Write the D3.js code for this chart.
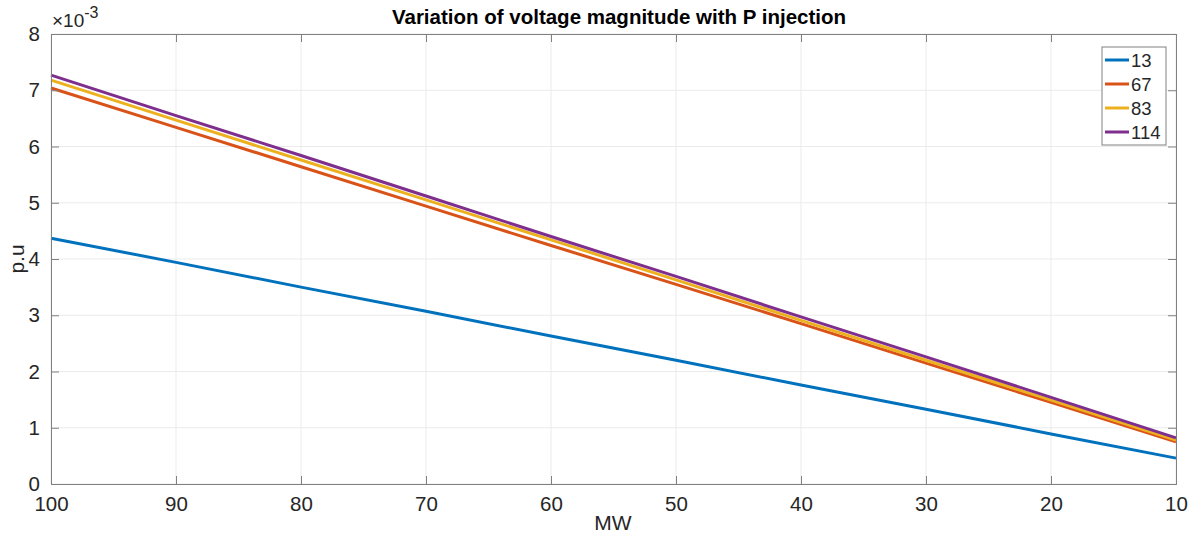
<!DOCTYPE html>
<html><head><meta charset="utf-8">
<script src="https://cdn.jsdelivr.net/npm/d3@7"></script>
<style>body{margin:0;background:#fff;} text{font-family:"Liberation Sans",Arial,sans-serif;}</style>
</head><body>
<svg id="c" width="1198" height="548"></svg>
<script>
const mw = [100, 90, 80, 70, 60, 50, 40, 30, 20, 10];
const bus13  = [4.37, 3.94, 3.50, 3.07, 2.63, 2.20, 1.76, 1.33, 0.89, 0.46];
const bus67  = [7.04, 6.34, 5.64, 4.94, 4.24, 3.55, 2.85, 2.15, 1.45, 0.75];
const bus83  = [7.18, 6.47, 5.76, 5.05, 4.34, 3.63, 2.91, 2.20, 1.49, 0.78];
const bus114 = [7.27, 6.55, 5.84, 5.12, 4.40, 3.69, 2.97, 2.26, 1.54, 0.82];
const seriesNames = ["13", "67", "83", "114"];
const colors = ["#0072BD", "#D95319", "#EDB120", "#7E2F8E"];
const xTicks = [100, 90, 80, 70, 60, 50, 40, 30, 20, 10];
const yTicks = [0, 1, 2, 3, 4, 5, 6, 7, 8];

const svg = d3.select("#c");
const L = 51, R = 1176, T = 34, B = 484;
const x = d3.scaleLinear().domain([100, 10]).range([L, R]);
const y = d3.scaleLinear().domain([0, 8]).range([B, T]);
const axCol = "#262626";

// grid
svg.append("g").selectAll("line").data(xTicks).join("line")
  .attr("x1", d => x(d)).attr("x2", d => x(d)).attr("y1", T).attr("y2", B)
  .attr("stroke", "#ebebeb").attr("stroke-width", 1);
svg.append("g").selectAll("line").data(yTicks).join("line")
  .attr("x1", L).attr("x2", R).attr("y1", d => y(d)).attr("y2", d => y(d))
  .attr("stroke", "#ebebeb").attr("stroke-width", 1);

// lines
const data = [bus13, bus67, bus83, bus114];
const line = d3.line().x((d, i) => x(mw[i])).y(d => y(d));
data.forEach((s, k) => {
  svg.append("path").datum(s).attr("d", line).attr("fill", "none")
    .attr("stroke", colors[k]).attr("stroke-width", 3);
});

// axes with inward ticks
const xb = d3.axisBottom(x).tickValues(xTicks).tickSize(-8).tickPadding(12).tickFormat(d3.format("d"));
const xt = d3.axisTop(x).tickValues(xTicks).tickSize(-8).tickFormat("");
const yl = d3.axisLeft(y).tickValues(yTicks).tickSize(-8).tickPadding(11).tickFormat(d3.format("d"));
const yr = d3.axisRight(y).tickValues(yTicks).tickSize(-8).tickFormat("");
function style(g){ g.selectAll("path,line").attr("stroke", "#808080"); g.selectAll("text").attr("fill", axCol).attr("font-size", 20.5).attr("font-family", "Liberation Sans, Arial, sans-serif"); }
svg.append("g").attr("transform", `translate(0,${B})`).call(xb).call(style);
svg.append("g").attr("transform", `translate(0,${T})`).call(xt).call(style);
svg.append("g").attr("transform", `translate(${L},0)`).call(yl).call(style);
svg.append("g").attr("transform", `translate(${R},0)`).call(yr).call(style);

// title & labels
svg.append("text").attr("x", 619).attr("y", 24).attr("text-anchor", "middle")
  .attr("font-size", 20.5).attr("font-weight", "bold").attr("fill", "#000")
  .text("Variation of voltage magnitude with P injection");
svg.append("text").attr("x", 613).attr("y", 530).attr("text-anchor", "middle")
  .attr("font-size", 21).attr("fill", axCol).text("MW");
svg.append("text").attr("transform", "translate(24,259) rotate(-90)").attr("text-anchor", "middle")
  .attr("font-size", 21).attr("fill", axCol).text("p.u");
const ex = svg.append("text").attr("x", 52).attr("y", 27).attr("font-size", 19).attr("fill", axCol);
ex.append("tspan").text("×10");
ex.append("tspan").attr("dy", -9).attr("font-size", 16).text("-3");

// legend
const lg = svg.append("g");
lg.append("rect").attr("x", 1102).attr("y", 47).attr("width", 64).attr("height", 98)
  .attr("fill", "#fff").attr("stroke", "#808080").attr("stroke-width", 1);
seriesNames.forEach((n, i) => {
  const yy = 60 + i * 24;
  lg.append("line").attr("x1", 1105).attr("x2", 1129).attr("y1", yy).attr("y2", yy)
    .attr("stroke", colors[i]).attr("stroke-width", 3);
  lg.append("text").attr("x", 1131).attr("y", yy + 7).attr("font-size", 18.5).attr("fill", axCol).text(n);
});
</script>
</body></html>
